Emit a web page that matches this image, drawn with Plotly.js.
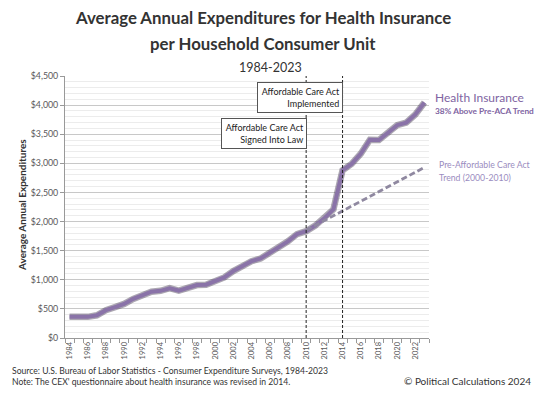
<!DOCTYPE html>
<html>
<head>
<meta charset="utf-8">
<script src="https://cdn.plot.ly/plotly-3.0.1.min.js"></script>
<style>html,body{margin:0;padding:0;background:#fff;}#chart{width:540px;height:394px;}</style>
</head>
<body>
<div id="chart"></div>
<script>
const years = [1984,1985,1986,1987,1988,1989,1990,1991,1992,1993,1994,1995,1996,1997,1998,1999,2000,2001,2002,2003,2004,2005,2006,2007,2008,2009,2010,2011,2012,2013,2014,2015,2016,2017,2018,2019,2020,2021,2022,2023];
const healthInsurance = [366,360,363,390,478,530,585,672,734,795,810,855,815,870,910,915,970,1040,1150,1240,1320,1365,1460,1550,1660,1785,1835,1930,2055,2210,2880,2990,3165,3405,3400,3525,3655,3700,3840,4045];
const trendYears = [2010,2023];
const trendValues = [1850,2930];
const acaYears = [2010,2014];
const yTickVals = [0,500,1000,1500,2000,2500,3000,3500,4000,4500];
const yTickText = ['$0','$500','$1,000','$1,500','$2,000','$2,500','$3,000','$3,500','$4,000','$4,500'];
const xTickVals = [1984,1986,1988,1990,1992,1994,1996,1998,2000,2002,2004,2006,2008,2010,2012,2014,2016,2018,2020,2022];

const F = 'Lato, "Open Sans", sans-serif';
const L = 65, R = 429, T = 76, B = 338;
const px = x => (x - L) / (R - L);
const py = y => (B - y) / (B - T);

const traces = [
  {x: years, y: healthInsurance, mode: 'lines', line: {color: 'rgba(70,60,85,0.45)', width: 6.5}, hoverinfo: 'skip', showlegend: false},
  {x: years, y: healthInsurance, mode: 'lines', line: {color: '#8a73a8', width: 4}, showlegend: false},
  {x: trendYears, y: trendValues, mode: 'lines', line: {color: '#8f88a0', width: 2.8, dash: '6px,3px'}, showlegend: false}
];

const shapes = acaYears.map(yr => ({type: 'line', xref: 'x', yref: 'y', x0: yr, x1: yr, y0: 0, y1: 4500, line: {color: '#222', width: 1, dash: '3px,2px'}}));

const annotations = [
  {text: '<b>Average Annual Expenditures for Health Insurance</b>', x: px(263), y: py(18), xref: 'paper', yref: 'paper', showarrow: false, xanchor: 'center', yanchor: 'middle', font: {family: F, size: 16.8, color: '#333'}},
  {text: '<b>per Household Consumer Unit</b>', x: px(263), y: py(43), xref: 'paper', yref: 'paper', showarrow: false, xanchor: 'center', yanchor: 'middle', font: {family: F, size: 16.8, color: '#333'}},
  {text: '1984-2023', x: px(270), y: py(68), xref: 'paper', yref: 'paper', showarrow: false, xanchor: 'center', yanchor: 'middle', font: {family: F, size: 12.5, color: '#333'}},
  {text: '<b>Average Annual Expenditures</b>', x: px(22), y: py(205), xref: 'paper', yref: 'paper', showarrow: false, textangle: -90, xanchor: 'center', yanchor: 'middle', font: {family: F, size: 10, color: '#333'}},
  {text: 'Affordable Care Act<br>Implemented', x: px(342.7), y: py(82.3), xref: 'paper', yref: 'paper', showarrow: false, xanchor: 'right', yanchor: 'top', align: 'right', width: 80, height: 25, borderpad: 2, bordercolor: '#555', borderwidth: 1, bgcolor: '#fff', font: {family: F, size: 9, color: '#222'}},
  {text: 'Affordable Care Act<br>Signed Into Law', x: px(307.3), y: py(117.7), xref: 'paper', yref: 'paper', showarrow: false, xanchor: 'right', yanchor: 'top', align: 'right', width: 80, height: 25, borderpad: 2, bordercolor: '#555', borderwidth: 1, bgcolor: '#fff', font: {family: F, size: 9, color: '#222'}},
  {text: 'Health Insurance', x: px(433), y: py(97), xref: 'paper', yref: 'paper', showarrow: false, xanchor: 'left', yanchor: 'middle', font: {family: F, size: 12, color: '#8064a2'}},
  {text: '<b>38% Above Pre-ACA Trend</b>', x: px(433), y: py(110.5), xref: 'paper', yref: 'paper', showarrow: false, xanchor: 'left', yanchor: 'middle', font: {family: F, size: 8.3, color: '#8064a2'}},
  {text: 'Pre-Affordable Care Act', x: px(437), y: py(164), xref: 'paper', yref: 'paper', showarrow: false, xanchor: 'left', yanchor: 'middle', font: {family: F, size: 8.7, color: '#9a8cc0'}},
  {text: 'Trend (2000-2010)', x: px(437), y: py(177), xref: 'paper', yref: 'paper', showarrow: false, xanchor: 'left', yanchor: 'middle', font: {family: F, size: 8.7, color: '#9a8cc0'}},
  {text: 'Source: U.S. Bureau of Labor Statistics - Consumer Expenditure Surveys, 1984-2023', x: px(10), y: py(371), xref: 'paper', yref: 'paper', showarrow: false, xanchor: 'left', yanchor: 'middle', font: {family: F, size: 8.6, color: '#333'}},
  {text: "Note: The CEX' questionnaire about health insurance was revised in 2014.", x: px(10), y: py(382), xref: 'paper', yref: 'paper', showarrow: false, xanchor: 'left', yanchor: 'middle', font: {family: F, size: 8.6, color: '#333'}},
  {text: '© Political Calculations 2024', x: px(533), y: py(381), xref: 'paper', yref: 'paper', showarrow: false, xanchor: 'right', yanchor: 'middle', font: {family: F, size: 10, color: '#333'}}
];

const layout = {
  width: 540, height: 394,
  margin: {l: L, r: 540 - R, t: T, b: 394 - B, pad: 0},
  paper_bgcolor: '#fff', plot_bgcolor: '#fff',
  showlegend: false,
  xaxis: {
    range: [1983.5, 2023.5], tickvals: xTickVals, ticktext: xTickVals.map(String), tickangle: -90,
    ticks: '', showgrid: false, zeroline: false, showline: true, linecolor: '#999', linewidth: 1,
    tickfont: {family: F, size: 7.5, color: '#595959'},
    minor: {tick0: 1983.5, dtick: 1, ticks: 'outside', ticklen: 4, tickcolor: '#999', showgrid: false}
  },
  yaxis: {
    range: [0, 4500], tickvals: yTickVals, ticktext: yTickText,
    ticks: 'outside', ticklen: 4, tickcolor: '#999',
    showgrid: true, gridcolor: '#c8c8c8', gridwidth: 1, zeroline: false,
    showline: true, linecolor: '#999', linewidth: 1,
    tickfont: {family: F, size: 8.8, color: '#595959'},
    minor: {dtick: 100, showgrid: true, gridcolor: '#ececec', gridwidth: 1, ticks: ''}
  },
  shapes: shapes,
  annotations: annotations
};

Plotly.newPlot('chart', traces, layout, {staticPlot: true, displayModeBar: false});
</script>
</body>
</html>
